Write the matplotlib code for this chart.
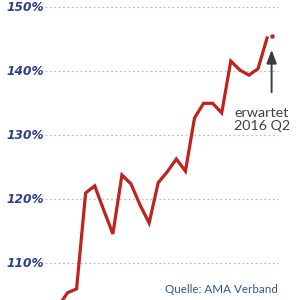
import matplotlib
matplotlib.use("Agg")
import matplotlib.pyplot as plt
import matplotlib.transforms as mtransforms

# Quarterly index values (%), last line point = 2016 Q1
quarters = list(range(24))
values = [103.3, 105.4, 106.0, 121.0, 122.1, 118.3, 114.6, 123.8, 122.4, 119.1,
          116.3, 122.6, 124.3, 126.3, 124.4, 132.7, 135.0, 135.0, 133.5, 141.6,
          140.2, 139.4, 140.4, 145.2]
# expected value for 2016 Q2
expected_x = 23.5
expected_value = 145.5

yticks = [110, 120, 130, 140, 150]
ytick_labels = ["110%", "120%", "130%", "140%", "150%"]

red = "#c0221e"
blue = "#2b3f8c"
grid_col = "#b2c0ce"

fig = plt.figure(figsize=(3, 3), dpi=100)
ax = fig.add_axes([0, 0, 1, 1])
ax.set_xlim(-6.44, 26.63)
ax.set_ylim(104.27, 151.14)
ax.axis("off")

# dotted gridlines and labels
trans = mtransforms.blended_transform_factory(ax.transAxes, ax.transData)
for v, lab in zip(yticks, ytick_labels):
    ax.axhline(v, xmin=0.15, xmax=0.927, color=grid_col, lw=0.9,
               linestyle=(0, (1.5, 2)), zorder=1)
    ax.text(0.022, v, lab, transform=trans, ha="left", va="center",
            fontsize=8.7, color=blue, fontweight="bold", style="italic",
            family="DejaVu Sans")

ax.plot(quarters, values, color=red, lw=2.3, solid_joinstyle="miter", zorder=3)
ax.plot([expected_x], [expected_value], "o", color=red, ms=2.2, zorder=3)

# arrow and annotation
ax.annotate("", xy=(expected_x, 143.8), xytext=(expected_x, 136.3),
            arrowprops=dict(arrowstyle="-|>,head_width=0.3,head_length=0.8",
                            color="#3c3c3c", lw=1.4))
ax.text(22.4, 134.4, "erwartet\n2016 Q2", ha="center", va="top",
        fontsize=10.3, color="#404040", family="Lato", linespacing=1.05)

fig.text(0.925, 0.018, "Quelle: AMA Verband", ha="right", va="bottom",
         fontsize=8.4, color="#34549a", family="Lato")

fig.savefig("out.png", dpi=100)
